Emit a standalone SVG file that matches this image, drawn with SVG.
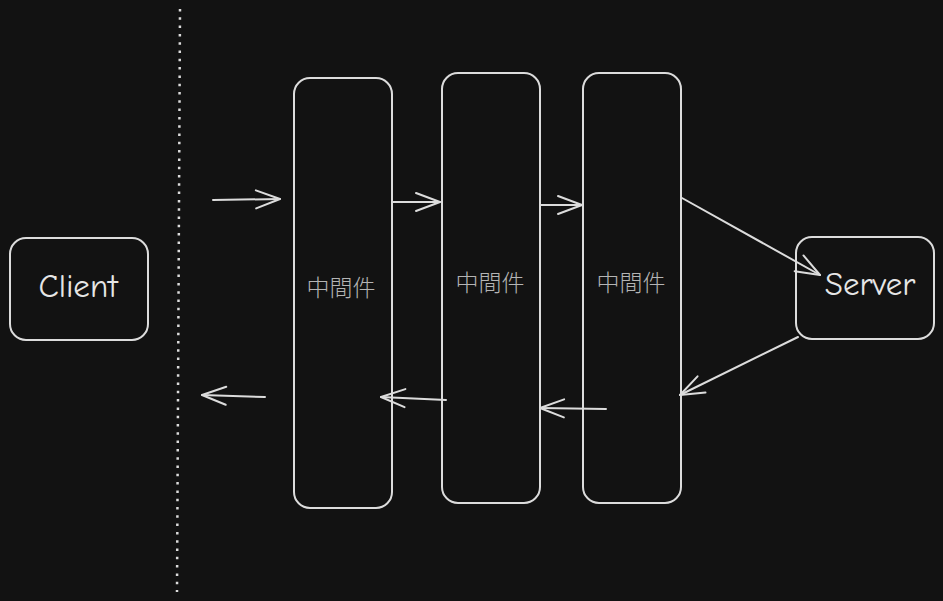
<svg xmlns="http://www.w3.org/2000/svg" width="943" height="601" viewBox="0 0 943 601">
<defs>
<marker id="ah" markerUnits="userSpaceOnUse" viewBox="-26 -12 30 24" refX="0" refY="0" markerWidth="30" markerHeight="24" orient="auto">
<path d="M-24,-9 L0,0 L-24,9" fill="none" stroke="#dcdcdc" stroke-width="2" stroke-linecap="round" stroke-linejoin="round"/>
</marker>
</defs>
<style>
.box{fill:#121212;stroke:#dcdcdc;stroke-width:2}
.conn{fill:none;stroke:#dcdcdc;stroke-width:2;stroke-linecap:round;marker-end:url(#ah)}
.mw{font-family:"Noto Sans CJK TC","Noto Sans CJK SC",sans-serif;font-size:23px;font-weight:300;fill:#b4b4b4;text-anchor:middle;dominant-baseline:central}
.lbl{font-family:"Comic Neue","DejaVu Sans","Liberation Sans",sans-serif;font-size:33px;fill:#e6e6e6;text-anchor:middle;dominant-baseline:central}
</style>
<rect width="943" height="601" fill="#121212"/>
<line x1="180" y1="9" x2="177" y2="592" stroke="#dcdcdc" stroke-width="2.5" stroke-dasharray="2.5 5.8" stroke-linecap="butt"/>
<g id="client"><rect class="box" x="10" y="238" width="138" height="102" rx="16"/><text class="lbl" x="78" y="286">Client</text></g>
<g id="server"><rect class="box" x="796" y="237" width="138" height="102" rx="16"/><text class="lbl" x="870" y="284">Server</text></g>
<g id="mw1"><rect class="box" x="294" y="78" width="98" height="430" rx="16"/><text class="mw" x="341" y="286">中間件</text></g>
<g id="mw2"><rect class="box" x="442" y="73" width="98" height="430" rx="16"/><text class="mw" x="490" y="281">中間件</text></g>
<g id="mw3"><rect class="box" x="583" y="73" width="98" height="430" rx="16"/><text class="mw" x="631" y="281">中間件</text></g>
<g id="connectors">
<line class="conn" x1="213" y1="200" x2="280" y2="199"/>
<line class="conn" x1="392" y1="202" x2="440" y2="202"/>
<line class="conn" x1="541" y1="205" x2="582" y2="205"/>
<line class="conn" x1="682" y1="198" x2="820" y2="275"/>
<line class="conn" x1="798" y1="337" x2="680" y2="395"/>
<line class="conn" x1="606" y1="409" x2="540" y2="408"/>
<line class="conn" x1="446" y1="400" x2="381" y2="397"/>
<line class="conn" x1="265" y1="397" x2="202" y2="395"/>
</g>
</svg>
